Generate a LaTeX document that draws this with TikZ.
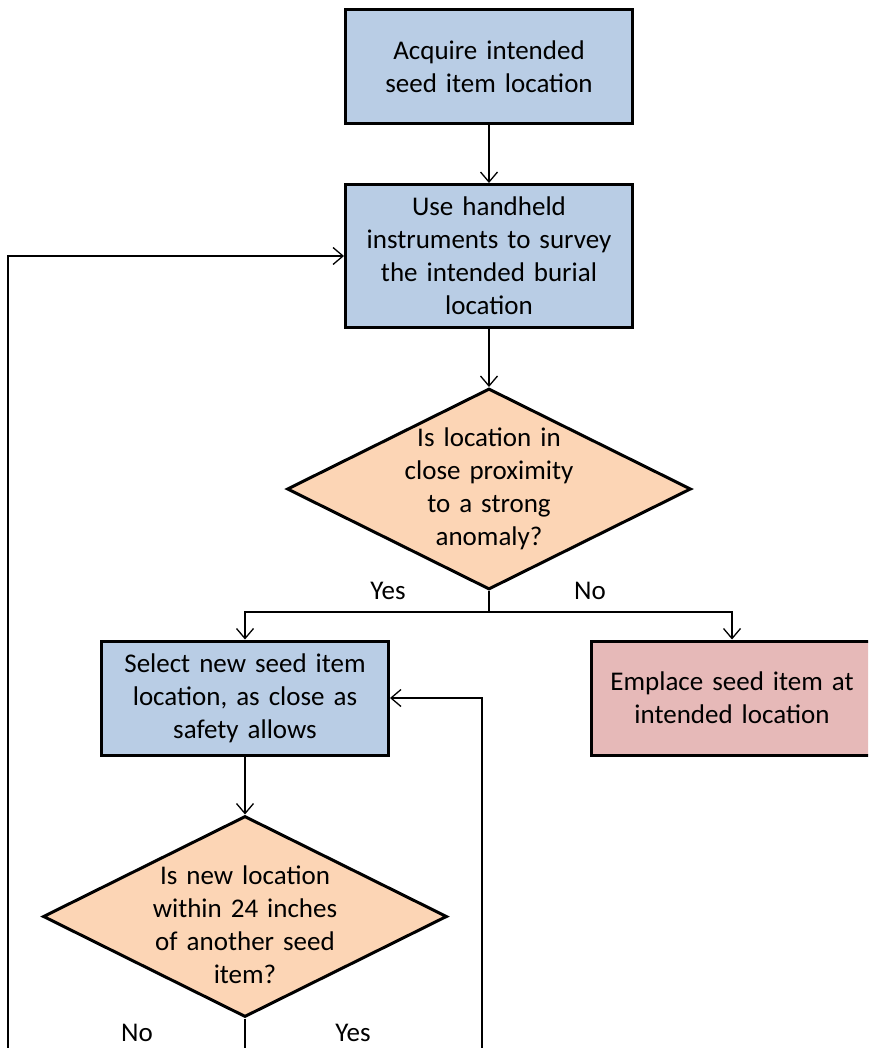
\documentclass[tikz,border=0pt]{standalone}
\usepackage{fontspec}
\setmainfont{Carlito}
\usepackage{xcolor}
\usepackage{tikz}
\usetikzlibrary{shapes.geometric,arrows.meta,positioning}

\definecolor{boxblue}{HTML}{B9CDE5}
\definecolor{boxpeach}{HTML}{FCD5B5}
\definecolor{boxrose}{HTML}{E6B9B8}

\begin{document}
\begin{tikzpicture}[x=1pt, y=-1pt,
    font=\fontsize{27pt}{33pt}\selectfont,
    process/.style={rectangle, draw, line width=3pt, fill=boxblue, text width=265pt, align=center, minimum width=287pt, minimum height=114pt},
    finish/.style={process, fill=boxrose, minimum width=282pt},
    decision/.style={diamond, draw, line width=3pt, fill=boxpeach, text width=215pt, align=center, inner sep=-13pt, shape aspect=2, minimum width=404pt, minimum height=201pt},
    arrow/.style={-{Straight Barb[length=10pt, width=17pt]}, line width=1.3pt},
    answer/.style={inner sep=0pt}]

    \clip (0,0) rectangle (868,1048);

    \node[process] (acquire) at (489,66.5) {Acquire intended\\seed item location};
    \node[process, minimum height=143pt, below=58pt of acquire] (survey) {Use handheld\\instruments to survey\\the intended burial\\location};
    \node[decision, below=58pt of survey] (anomaly) {Is location in\\close proximity\\to a strong\\anomaly?};
    \node[process] (select) at (245,698) {Select new seed item\\location, as close as\\safety allows};
    \node[finish] (emplace) at (732,698) {Emplace seed item at\\intended location};
    \node[decision, inner sep=-17pt, below=58pt of select] (spacing) {\rule{0pt}{36pt}Is new location\\within 24 inches\\of another seed\\item?};

    \coordinate (fork) at (489,612);
    \coordinate (lowjoin) at (245,1080);
    \coordinate (leftrail) at (8,1080);
    \coordinate (rightrail) at (482,1080);

    \draw[arrow] (acquire) -- (survey);
    \draw[arrow] (survey) -- (anomaly);
    \draw[line width=1.3pt] (anomaly.south) -- (fork);
    \draw[arrow] (fork) -| (select.north);
    \draw[arrow] (fork) -| (emplace.north);
    \draw[arrow] (select) -- (spacing);
    \draw[line width=1.3pt] (spacing.south) -- (lowjoin);
    \draw[arrow] (lowjoin) -- (leftrail) |- (survey.west);
    \draw[arrow] (lowjoin) -- (rightrail) |- (select.east);

    \node[answer] (yes1) at (388,591) {Yes};
    \node[answer] (no1) at (590,591) {No};
    \node[answer] (no2) at (137,1033) {No};
    \node[answer] (yes2) at (353,1033) {Yes};

\end{tikzpicture}
\end{document}
